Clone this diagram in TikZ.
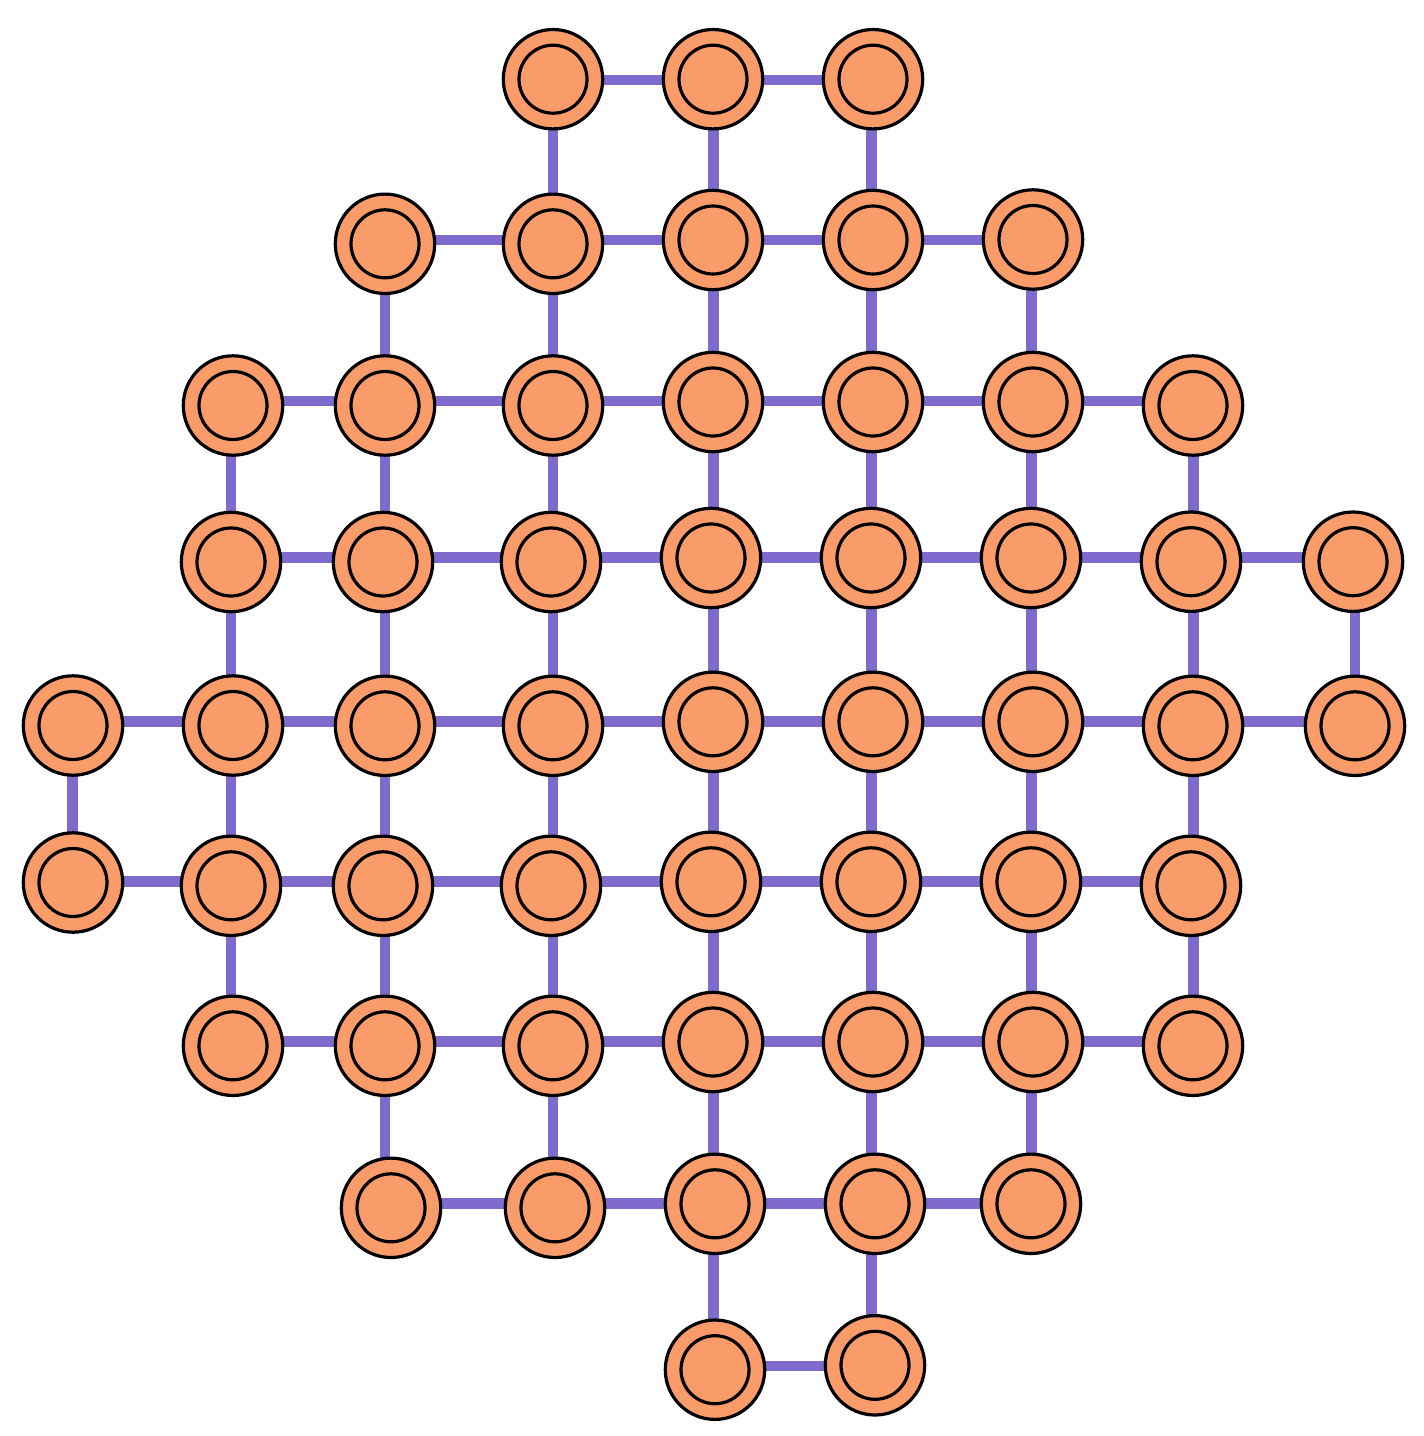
\documentclass[tikz,border=0pt]{standalone}
\usetikzlibrary{backgrounds}
\definecolor{stonefill}{RGB}{250,156,106}
\definecolor{linkcol}{RGB}{127,107,206}
\tikzset{
  stone/.style = {circle, draw, fill = stonefill, line width = 1.6pt, inner sep = 0pt, minimum size = 49.7pt,
    path picture = {\draw [line width = 1.6pt] (path picture bounding box.center) circle (17pt);}},
  link/.style = {line width = 5.3pt, draw = linkcol}
}
\begin{document}
\begin{tikzpicture}[x = .5pt, y = -.5pt]
      \useasboundingbox (0,0) rectangle (1424,1436);
      % grid lines the links run on
      \foreach \r/\y in {1/80, 2/240, 3/401, 4/557.7, 5/721.7, 6/881.5, 7/1041.7, 8/1203.3, 9/1366}
        \coordinate (row\r) at (0,\y);
      \foreach \c/\x in {1/72.7, 2/231, 3/385, 4/553, 5/713.2, 6/871.2, 7/1031.3, 8/1193.3, 9/1355}
        \coordinate (col\c) at (\x,0);
      % stones, row by row
      \foreach \r/\c/\x/\y in {1/4/553/79.2, 1/5/713/79.2, 1/6/873/79.2,
        2/3/385/243.8, 2/4/553/243.8, 2/5/713/240, 2/6/873/240, 2/7/1033/239.5,
        3/2/233/405.5, 3/3/385/405.5, 3/4/553/405.5, 3/5/713/402, 3/6/873/402, 3/7/1033/402, 3/8/1193/405.5,
        4/2/231/562, 4/3/383/562, 4/4/551/562, 4/5/711/558, 4/6/871/558, 4/7/1031/558, 4/8/1191/561.7, 4/9/1353/561.7,
        5/1/73/725.5, 5/2/233/725.5, 5/3/385/725.8, 5/4/553/725.8, 5/5/713/721.8, 5/6/873/721.8, 5/7/1033/721.8, 5/8/1193/725.8, 5/9/1355/725.8,
        6/1/73/882.5, 6/2/231/885.8, 6/3/383/885.8, 6/4/551/885.8, 6/5/711/881.8, 6/6/871/881.8, 6/7/1031/881.8, 6/8/1191/885.8,
        7/2/233/1045.8, 7/3/385/1045.8, 7/4/553/1045.8, 7/5/713/1042, 7/6/873/1042, 7/7/1033/1042, 7/8/1193/1045.8,
        8/3/391/1207.8, 8/4/555/1207.8, 8/5/715/1203.8, 8/6/875/1203.8, 8/7/1031/1203.8,
        9/5/715/1369.7, 9/6/875/1365.3}
        \node [stone] (n\r\c) at (\x,\y) {};
      \begin{scope}[on background layer]
      % links along the rows (first and last column that gets a link to its right)
      \foreach \r/\a/\b in {1/4/5, 2/3/6, 3/2/7, 4/2/8, 5/1/8, 6/1/7, 7/2/7, 8/3/6, 9/5/5}
        \foreach \c in {\a,...,\b} {
          \pgfmathtruncatemacro{\d}{\c+1}
          \draw [link] (n\r\c.center |- row\r) -- (n\r\d.center |- row\r);
        }
      % links down the columns
      \foreach \r/\a/\b in {1/4/6, 2/3/7, 3/2/8, 4/2/9, 5/1/8, 6/2/8, 7/3/7, 8/5/6}
        \foreach \c in {\a,...,\b} {
          \pgfmathtruncatemacro{\s}{\r+1}
          \draw [link] (col\c |- n\r\c.center) -- (col\c |- n\s\c.center);
        }
      \end{scope}
\end{tikzpicture}
\end{document}
